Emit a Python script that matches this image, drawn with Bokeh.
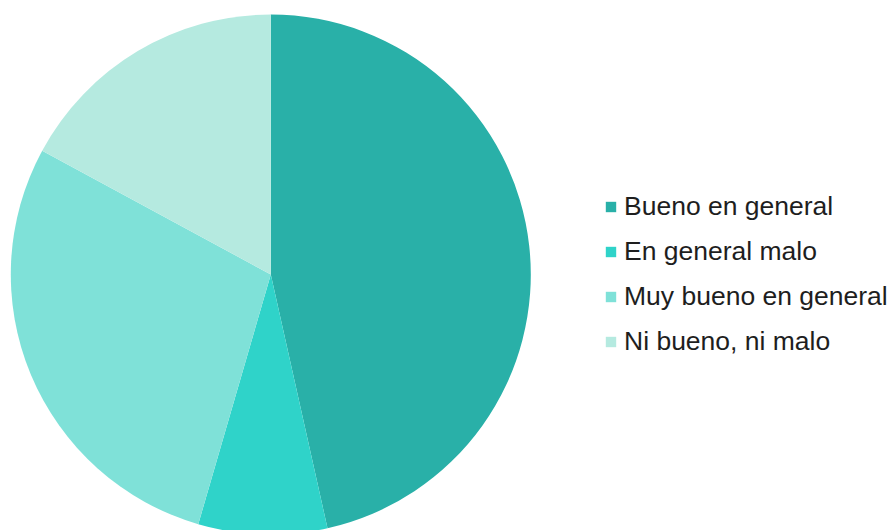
import numpy as np
from bokeh.plotting import figure
from bokeh.models import ColumnDataSource, Legend, LegendItem, Range1d
from bokeh.embed import file_html
from bokeh.resources import INLINE

categories = ["Bueno en general", "En general malo", "Muy bueno en general", "Ni bueno, ni malo"]
values = [46.5, 8.0, 28.4, 17.1]
colors = ["#29b0a8", "#2fd3c9", "#7fe1d8", "#b5eae0"]

W, H = 893, 530
p = figure(width=W, height=H, x_range=Range1d(0, W), y_range=Range1d(0, H),
           output_backend="svg", toolbar_location=None, min_border=0)
p.axis.visible = False
p.grid.visible = False
p.outline_line_color = None

frac = np.array(values) / sum(values)
ends = np.cumsum(frac) * 2 * np.pi
starts = ends - frac * 2 * np.pi
source = ColumnDataSource(dict(cat=categories, start=np.pi / 2 - starts,
                               end=np.pi / 2 - ends, color=colors))
r = p.wedge(x=270.3, y=H - 274, radius=260, radius_units="screen",
            start_angle="start", end_angle="end", direction="clock",
            fill_color="color", line_color=None, source=source)

legend = Legend(items=[LegendItem(label=c, renderers=[r], index=i) for i, c in enumerate(categories)],
                location=(604, 173), padding=0, margin=0, spacing=14,
                label_height=30, glyph_height=13, glyph_width=13, label_standoff=7,
                label_text_font="Liberation Sans", label_text_font_size="26.5px",
                label_text_color="#1e1e1e",
                border_line_alpha=0, background_fill_alpha=0)
p.add_layout(legend, "center")

open("out.html", "w").write(file_html(p, INLINE))
